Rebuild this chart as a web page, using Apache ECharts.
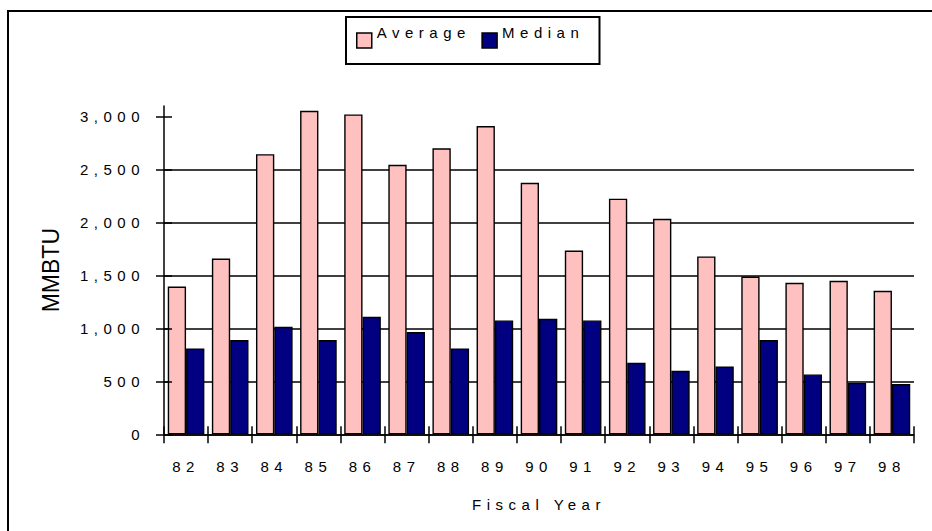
<!DOCTYPE html>
<html>
<head>
<meta charset="utf-8">
<script src="https://cdn.jsdelivr.net/npm/echarts@6/dist/echarts.min.js"></script>
<style>
  html, body { margin: 0; padding: 0; background: #fff; }
  #chart { width: 932px; height: 531px; }
  #chart text[style*="sans-serif"] { letter-spacing: 5.5px; }
</style>
</head>
<body>
<div id="chart"></div>
<script>
const categories = ['82','83','84','85','86','87','88','89','90','91','92','93','94','95','96','97','98'];
const average = [1395, 1660, 2645, 3055, 3020, 2545, 2700, 2910, 2375, 1735, 2225, 2035, 1680, 1490, 1430, 1450, 1355];
const median  = [810, 890, 1015, 890, 1110, 965, 810, 1075, 1090, 1075, 675, 600, 640, 890, 565, 485, 475];
const yTicks = [0, 500, 1000, 1500, 2000, 2500, 3000];
const seriesNames = ['Average', 'Median'];

const SPACED = "'Liberation Sans', sans-serif";
const PLAIN = "'Liberation Sans', Arial";
const fmt = v => v >= 1000 ? Math.floor(v / 1000) + ',' + String(v % 1000).padStart(3, '0') : String(v);

const chart = echarts.init(document.getElementById('chart'), null, { renderer: 'svg' });
chart.setOption({
  backgroundColor: '#fff',
  animation: false,
  graphic: [
    { type: 'rect', silent: true, z: 0, shape: { x: 8, y: 11, width: 1000, height: 700 },
      style: { fill: 'none', stroke: '#000', lineWidth: 2 } },
    { type: 'rect', silent: true, z: 0, shape: { x: 346, y: 17, width: 253.5, height: 47 },
      style: { fill: '#fff', stroke: '#000', lineWidth: 2 } }
  ],
  legend: {
    data: seriesNames,
    left: 356, top: 25, padding: 0,
    itemWidth: 15, itemHeight: 15, itemGap: 49,
    icon: 'rect',
    itemStyle: { borderColor: '#000', borderWidth: 1.5 },
    formatter: name => '{t|' + name + '}',
    textStyle: {
      fontSize: 15, fontFamily: SPACED, color: '#000',
      rich: { t: { fontSize: 15, fontFamily: SPACED, color: '#000', padding: [0, 0, 16, 0] } }
    }
  },
  grid: { left: 164, right: 18, top: 106, bottom: 96.7, containLabel: false },
  xAxis: [
    {
      type: 'category', data: categories, boundaryGap: true, position: 'bottom',
      axisLine: { show: true, lineStyle: { color: '#000', width: 1.5 } },
      axisTick: { show: true, length: 9, lineStyle: { color: '#000', width: 1.5 } },
      axisLabel: { margin: 25, fontSize: 15, fontFamily: SPACED, color: '#000' },
      name: 'Fiscal Year', nameLocation: 'middle', nameGap: 63,
      nameTextStyle: { fontSize: 15, fontFamily: SPACED, color: '#000' },
      splitLine: { show: false }
    },
    {
      type: 'category', data: categories, boundaryGap: true, position: 'bottom',
      axisLine: { show: false },
      axisTick: { show: true, inside: true, length: 8, lineStyle: { color: '#000', width: 1.5 } },
      axisLabel: { show: false }, splitLine: { show: false }
    }
  ],
  yAxis: [
    {
      type: 'value', min: 0, max: 3100, interval: 500, position: 'left',
      axisLine: { show: true, lineStyle: { color: '#000', width: 1.5 } },
      axisTick: { show: true, length: 8, customValues: yTicks, lineStyle: { color: '#000', width: 1.5 } },
      axisLabel: { margin: 19, fontSize: 15, fontFamily: SPACED, color: '#000', customValues: yTicks,
        formatter: v => (v > 3000 ? '' : fmt(v)) },
      splitLine: { show: true, showMaxLine: false, lineStyle: { color: '#000', width: 1.5 } },
      name: 'MMBTU', nameLocation: 'middle', nameGap: 102, nameRotate: 90,
      nameTextStyle: { fontSize: 23, fontFamily: PLAIN, color: '#000' }
    },
    {
      type: 'value', min: 0, max: 3100, interval: 500, position: 'left', z: 10,
      axisLine: { show: false },
      axisTick: { show: true, inside: true, length: 8, customValues: yTicks, lineStyle: { color: '#000', width: 1.5 } },
      axisLabel: { show: false }, splitLine: { show: false }
    }
  ],
  series: [
    { name: seriesNames[0], type: 'bar', data: average, xAxisIndex: 0, yAxisIndex: 0,
      barGap: '0%', barCategoryGap: '17%',
      itemStyle: { color: '#FFC0C0', borderColor: '#000', borderWidth: 1.4 } },
    { name: seriesNames[1], type: 'bar', data: median, xAxisIndex: 0, yAxisIndex: 0,
      barGap: '0%', barCategoryGap: '17%',
      itemStyle: { color: '#000080', borderColor: '#000', borderWidth: 1.4 } }
  ]
});
</script>
</body>
</html>
